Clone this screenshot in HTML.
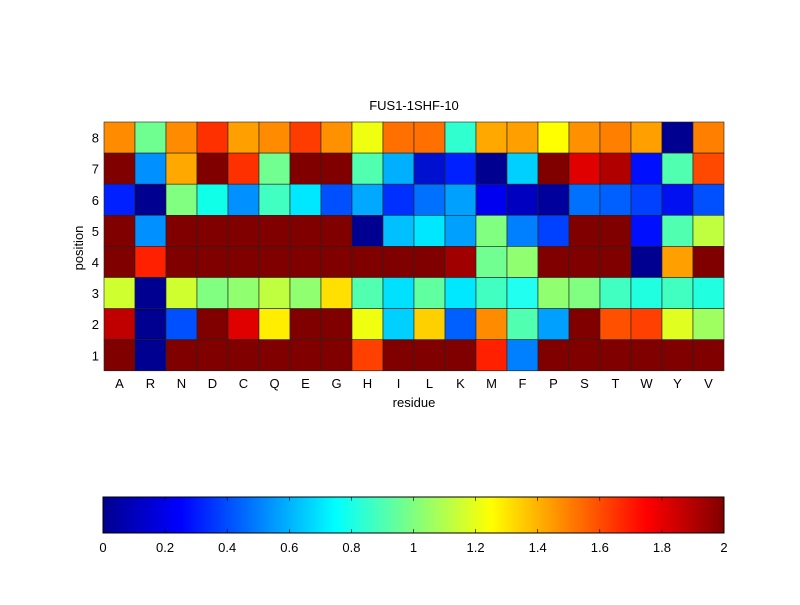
<!DOCTYPE html>
<html><head><meta charset="utf-8"><style>
body{margin:0;background:#fff;width:800px;height:600px;overflow:hidden}
svg text{font-family:"Liberation Sans",sans-serif;font-size:13px;fill:#000}
</style></head><body>
<svg id="s" width="800" height="600" xmlns="http://www.w3.org/2000/svg">
<defs><linearGradient id="jet" x1="0" x2="1" y1="0" y2="0">
<stop offset="0" stop-color="#00008f"/><stop offset="0.125" stop-color="#0000ff"/>
<stop offset="0.375" stop-color="#00ffff"/><stop offset="0.625" stop-color="#ffff00"/>
<stop offset="0.875" stop-color="#ff0000"/><stop offset="1" stop-color="#800000"/>
</linearGradient></defs>
<rect x="0" y="0" width="800" height="600" fill="#fff"/>
<g id="cells"></g>
<text x="414" y="110" text-anchor="middle">FUS1-1SHF-10</text>
<text x="414" y="407" text-anchor="middle">residue</text>
<text transform="translate(83,248) rotate(-90)" text-anchor="middle">position</text>
<rect x="103" y="497" width="621" height="36" fill="url(#jet)" stroke="#000" stroke-width="1"/>
<g id="cb"></g>
</svg>
<script>
var rows=[
["#ff8c00","#6fff90","#ff8c00","#ff3000","#ffa000","#ff8c00","#ff3c00","#ff9000","#f0ff10","#ff7000","#ff7000","#30ffd0","#ffa800","#ffa000","#ffff00","#ff9000","#ff8000","#ffa000","#000090","#ff8000"],
["#800000","#0090ff","#ffa800","#800000","#ff3000","#70ff90","#800000","#800000","#50ffb0","#00b0ff","#0010d0","#0020ff","#000090","#00d0ff","#800000","#e00000","#b00000","#0010ff","#50ffb0","#ff4800"],
["#0020ff","#000090","#80ff80","#10ffe8","#0090ff","#40ffc0","#00e8ff","#0050ff","#00a8ff","#0030ff","#0070ff","#00a0ff","#0000f0","#0000c0","#00009c","#0070ff","#0060ff","#0040ff","#0010f0","#0050ff"],
["#800000","#0090ff","#800000","#800000","#800000","#800000","#800000","#800000","#000090","#00c0ff","#00e8ff","#00a0ff","#80ff80","#0080ff","#0040ff","#800000","#800000","#0010ff","#50ffb0","#c0ff40"],
["#800000","#ff2000","#800000","#800000","#800000","#800000","#800000","#800000","#800000","#800000","#800000","#a00000","#70ff90","#90ff70","#800000","#800000","#800000","#000090","#ffa000","#800000"],
["#d0ff30","#000090","#d0ff30","#80ff80","#90ff70","#c0ff40","#90ff70","#ffe000","#50ffb0","#00e0ff","#60ffa0","#00e8ff","#40ffc0","#20fff0","#90ff70","#80ff80","#40ffc0","#20ffe0","#40ffc0","#20ffe0"],
["#c00000","#000090","#0050ff","#800000","#e00000","#ffee00","#800000","#800000","#f0ff10","#00d0ff","#ffd000","#0060ff","#ff8c00","#50ffb0","#00a0ff","#800000","#ff5000","#ff4000","#e0ff20","#a0ff60"],
["#800000","#000090","#800000","#800000","#800000","#800000","#800000","#800000","#ff4000","#800000","#800000","#800000","#ff2000","#0080ff","#800000","#800000","#800000","#800000","#800000","#800000"]];
var res="ARNDCQEGHILKMFPSTWYV".split("");
var ns="http://www.w3.org/2000/svg",g=document.getElementById("cells"),h="";
var x0=104,y0=122,cw=31,ch=31.1;
for(var r=0;r<8;r++)for(var c=0;c<20;c++)
 h+='<rect x="'+(x0+c*cw)+'" y="'+(y0+r*ch)+'" width="'+cw+'" height="'+ch+'" fill="'+rows[r][c]+'" stroke="#222" stroke-width="0.6"/>';
for(var c=0;c<20;c++)h+='<text x="'+(x0+c*cw+cw/2)+'" y="388" text-anchor="middle">'+res[c]+'</text>';
for(var r=0;r<8;r++)h+='<text x="99" y="'+(y0+r*ch+ch/2+5)+'" text-anchor="end">'+(8-r)+'</text>';
g.innerHTML=h;
var cb="";
for(var i=0;i<=10;i++){var x=103+i*62.1;var v=(i*0.2).toFixed(1).replace(/\.0$/,"");
 cb+='<text x="'+x+'" y="552" text-anchor="middle">'+v+'</text>';
 if(i>0&&i<10)cb+='<line x1="'+x+'" y1="497" x2="'+x+'" y2="501" stroke="#000" stroke-width="0.6"/><line x1="'+x+'" y1="529" x2="'+x+'" y2="533" stroke="#000" stroke-width="0.6"/>';}
document.getElementById("cb").innerHTML=cb;
</script>
</body></html>
